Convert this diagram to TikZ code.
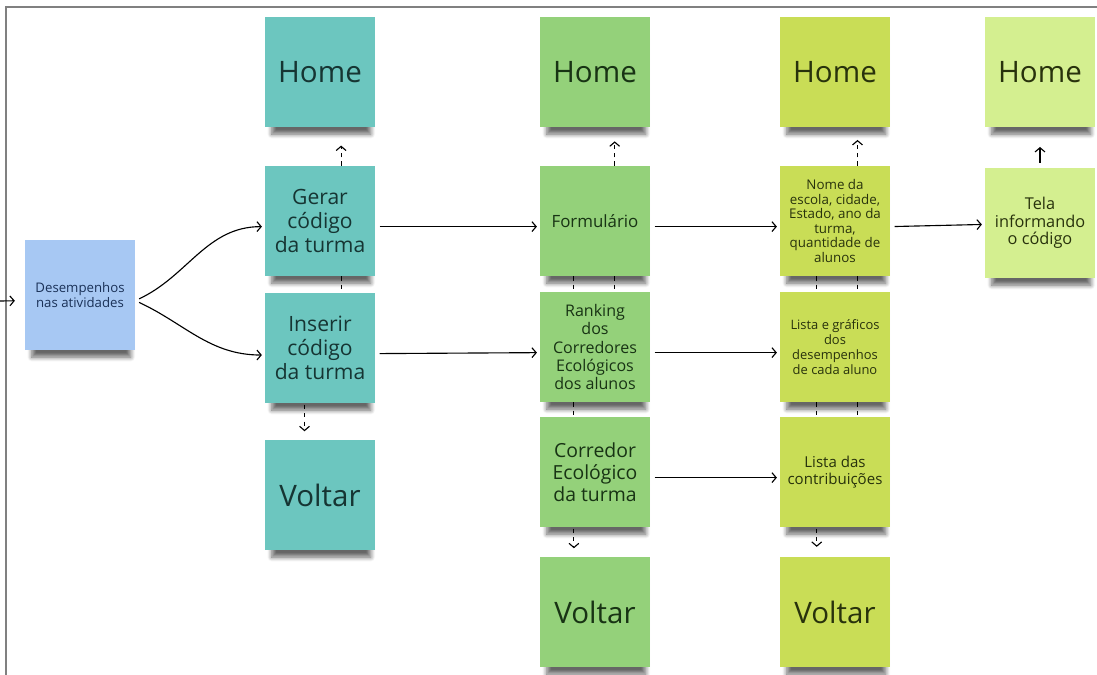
\documentclass[tikz,border=0pt]{standalone}
\usepackage{fontspec}
\setmainfont{Open Sans}
\usetikzlibrary{arrows.meta,shadows.blur,backgrounds}

\definecolor{noteteal}{HTML}{6CC6BF}
\definecolor{notegreen}{HTML}{94D17A}
\definecolor{notelime}{HTML}{C9DD56}
\definecolor{notepale}{HTML}{D4EF90}
\definecolor{noteblue}{HTML}{A7C8F3}
\definecolor{inkteal}{HTML}{163533}
\definecolor{inkgreen}{HTML}{183314}
\definecolor{inklime}{HTML}{28320C}
\definecolor{inkblue}{HTML}{1A3157}

\tikzset{
  note/.style={minimum width=2.75cm, minimum height=2.75cm, inner sep=2pt, align=center,
    blur shadow={shadow xshift=1pt, shadow yshift=-10pt, shadow scale=0.9,
      shadow blur radius=3.5pt, shadow blur steps=8, shadow opacity=60}},
  tealnote/.style={note, fill=noteteal, text=inkteal},
  greennote/.style={note, fill=notegreen, text=inkgreen},
  limenote/.style={note, fill=notelime, text=inklime},
  palenote/.style={note, fill=notepale, text=inklime},
  bluenote/.style={note, fill=noteblue, text=inkblue},
  big/.style={font=\fontsize{21}{24}\selectfont},
  conn/.style={line width=.8pt, -{Straight Barb[length=3pt,width=7pt]}},
  dconn/.style={conn, dash pattern=on 3pt off 3pt},
  tick/.style={line width=.8pt, dash pattern=on 3pt off 3pt}
}

\begin{document}
\begin{tikzpicture}[x=0.025cm, y=-0.025cm]
    \useasboundingbox (0,0) rectangle (1097,675);
    %Frame
    \draw[gray, line width=1.4pt] (6,675) -- (6,7) -- (1097,7);
    %Start
    \node[bluenote, font=\fontsize{9.4}{10.2}\selectfont] (desemp) at (80,295) {Desempenhos\\nas atividades};
    %Column 1
    \node[tealnote, big] (home1) at (320,72) {Home};
    \node[tealnote, font=\fontsize{15}{17}\selectfont] (gerar) at (320,221) {Gerar\\código\\da turma};
    \node[tealnote, font=\fontsize{15}{17}\selectfont] (inserir) at (320,348) {Inserir\\código\\da turma};
    \node[tealnote, big] (voltar1) at (320,495) {Voltar};
    %Column 2
    \node[greennote, big] (home2) at (595,72) {Home};
    \node[greennote, font=\fontsize{12}{14}\selectfont] (form) at (595,221) {Formulário};
    \node[greennote, font=\fontsize{11.4}{13}\selectfont] (rank) at (595,347) {Ranking\\dos\\Corredores\\Ecológicos\\dos alunos};
    \node[greennote, font=\fontsize{13.8}{15.6}\selectfont] (corr) at (595,472) {Corredor\\Ecológico\\da turma};
    \node[greennote, big] (voltar2) at (595,612) {Voltar};
    %Column 3
    \node[limenote, big] (home3) at (835,72) {Home};
    \node[limenote, font=\fontsize{9.5}{10.3}\selectfont] (nome) at (835,221) {Nome da\\escola, cidade,\\Estado, ano da\\turma,\\quantidade de\\alunos};
    \node[limenote, font=\fontsize{9.2}{10.7}\selectfont] (lista) at (835,347) {Lista e gráficos\\dos\\desempenhos\\de cada aluno};
    \node[limenote, font=\fontsize{10.7}{12}\selectfont] (contrib) at (835,472) {Lista das\\contribuições};
    \node[limenote, big] (voltar3) at (835,612) {Voltar};
    %Column 4
    \node[palenote, big] (home4) at (1040,72) {Home};
    \node[palenote, font=\fontsize{11.6}{12.5}\selectfont] (tela) at (1040,223) {Tela\\informando\\o código};

    %Flows
    \coordinate (entry) at (0,301);
    \draw[conn, shorten >=7pt] (entry) -- ([yshift=-4pt]desemp.west);
    \draw[conn, shorten <=3pt, shorten >=2pt] ([yshift=-4pt]desemp.east) to[out=25,in=180] ([yshift=-4pt]gerar.west);
    \draw[conn, shorten <=3pt, shorten >=2pt] ([yshift=-4pt]desemp.east) to[out=-25,in=180] ([yshift=-5pt]inserir.west);
    \draw[conn, shorten <=3pt, shorten >=2pt] ([yshift=-4pt]gerar.east) -- ([yshift=-4pt]form.west);
    \draw[conn, shorten <=3pt, shorten >=2pt] ([yshift=-4pt]inserir.east) -- ([yshift=-4pt]rank.west);
    \draw[conn, shorten <=3pt, shorten >=2pt] ([yshift=-4pt]form.east) -- ([yshift=-4pt]nome.west);
    \draw[conn, shorten <=3pt, shorten >=2pt] ([yshift=-4pt]rank.east) -- ([yshift=-4pt]lista.west);
    \draw[conn, shorten <=3pt, shorten >=2pt] ([yshift=-4pt]corr.east) -- ([yshift=-4pt]contrib.west);
    \draw[conn, shorten <=3pt, shorten >=2pt] ([yshift=-4pt]nome.east) -- ([yshift=-1pt]tela.west);
    %Home and back
    \draw[dconn, shorten >=13pt] ([xshift=15pt]gerar.north) -- ([xshift=15pt]home1.south);
    \draw[dconn, shorten >=10pt] ([xshift=14pt]form.north) -- ([xshift=14pt]home2.south);
    \draw[dconn, shorten >=9pt] ([xshift=16pt]nome.north) -- ([xshift=16pt]home3.south);
    \draw[conn, shorten <=3.5pt, shorten >=14pt] (tela.north) -- (home4.south);
    \draw[dconn, shorten <=1pt, shorten >=6pt] ([xshift=-11pt]inserir.south) -- ([xshift=-11pt]voltar1.north);
    \draw[dconn, shorten <=1pt, shorten >=6pt] ([xshift=-15pt]corr.south) -- ([xshift=-15pt]voltar2.north);
    \draw[dconn, shorten <=1pt, shorten >=7pt] ([xshift=-13pt]contrib.south) -- ([xshift=-13pt]voltar3.north);
    %Hidden links
    \begin{scope}[on background layer]
    \foreach \a/\b/\s in {gerar/inserir/15pt, form/rank/14pt, form/rank/-15pt, rank/corr/-15pt,
        nome/lista/16pt, nome/lista/-13pt, lista/contrib/16pt, lista/contrib/-13pt}
      \draw[tick] ([xshift=\s]\a.south) -- ([xshift=\s]\b.north);
    \end{scope}
\end{tikzpicture}
\end{document}
